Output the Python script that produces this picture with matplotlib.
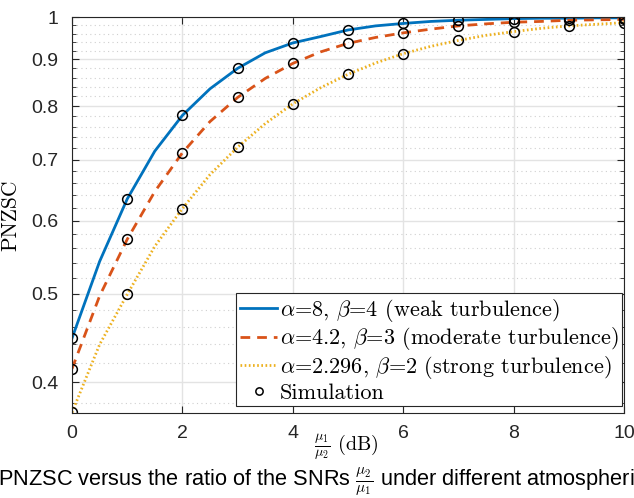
import numpy as np
import matplotlib
matplotlib.use("Agg")
import matplotlib.pyplot as plt
from matplotlib.ticker import FixedLocator, NullFormatter

plt.rcParams['mathtext.fontset'] = 'cm'
plt.rcParams['font.family'] = ['Liberation Sans', 'DejaVu Sans']

# analytical curves (0.5 dB step)
x_line = [0, 0.5, 1, 1.5, 2, 2.5, 3, 3.5, 4, 4.5, 5, 5.5, 6, 6.5, 7, 7.5, 8, 8.5, 9, 9.5, 10]
weak = [0.447, 0.542, 0.634, 0.715, 0.782, 0.836, 0.880, 0.915, 0.938, 0.953, 0.969,
        0.979, 0.985, 0.990, 0.993, 0.995, 0.997, 0.998, 0.998, 0.999, 0.999]
moderate = [0.414, 0.497, 0.573, 0.646, 0.712, 0.770, 0.818, 0.858, 0.891, 0.917, 0.937,
            0.951, 0.962, 0.971, 0.979, 0.984, 0.988, 0.990, 0.993, 0.994, 0.995]
strong = [0.371, 0.440, 0.499, 0.563, 0.619, 0.674, 0.722, 0.766, 0.805, 0.838, 0.867,
          0.892, 0.913, 0.930, 0.944, 0.956, 0.965, 0.973, 0.979, 0.983, 0.987]

# simulation points
x_sim = [0, 1, 2, 3, 4, 5, 6, 7, 8, 9, 10]
sim_weak = [0.447, 0.634, 0.782, 0.880, 0.938, 0.969, 0.985, 0.993, 0.997, 0.998, 0.999]
sim_moderate = [0.414, 0.573, 0.712, 0.818, 0.891, 0.937, 0.962, 0.979, 0.988, 0.993, 0.995]
sim_strong = [0.371, 0.499, 0.619, 0.722, 0.805, 0.867, 0.913, 0.944, 0.965, 0.979, 0.987]

labels = [r'$\alpha$=8, $\beta$=4 (weak turbulence)',
          r'$\alpha$=4.2, $\beta$=3 (moderate turbulence)',
          r'$\alpha$=2.296, $\beta$=2 (strong turbulence)',
          'Simulation']
yticks = [0.4, 0.5, 0.6, 0.7, 0.8, 0.9, 1.0]
yticklabels = ['0.4', '0.5', '0.6', '0.7', '0.8', '0.9', '1']
xticks = [0, 2, 4, 6, 8, 10]

fig = plt.figure(figsize=(6.34, 4.98), dpi=100)
ax = fig.add_axes([0.1136, 0.1707, 0.8706, 0.7943])

c_blue, c_red, c_yel = '#0072BD', '#D95319', '#EDB120'
h1, = ax.plot(x_line, weak, '-', color=c_blue, lw=2)
h2, = ax.plot(x_line, moderate, '--', color=c_red, lw=2, dashes=(3.5, 2.5))
h3, = ax.plot(x_line, strong, ':', color=c_yel, lw=2, dashes=(0.6, 0.9))
hs = None
for sv in (sim_weak, sim_moderate, sim_strong):
    hs, = ax.plot(x_sim, sv, 'o', mfc='none', mec='black', ms=7, mew=1.1, linestyle='none')

ax.set_yscale('log')
ax.set_xlim(0, 10)
ax.set_ylim(0.3705, 1.0)
ax.yaxis.set_major_locator(FixedLocator(yticks))
ax.set_yticklabels(yticklabels)
minors = [round(v, 2) for v in np.arange(0.38, 1.0, 0.02) if round(v, 2) not in [0.4, 0.5, 0.6, 0.7, 0.8, 0.9]]
ax.yaxis.set_minor_locator(FixedLocator(minors))
ax.yaxis.set_minor_formatter(NullFormatter())
ax.set_xticks(xticks)
ax.set_xticklabels([str(v) for v in xticks])

ax.grid(True, which='major', color='#e3e3e3', lw=1, ls='-')
ax.grid(True, which='minor', axis='y', color='#cfcfcf', lw=0.8, ls=(0, (1, 3)))
ax.set_axisbelow(True)
ax.tick_params(which='both', direction='in', top=True, right=True, labelsize=14,
               colors='#262626', length=5)
ax.tick_params(which='minor', length=3)
ax.tick_params(axis='x', pad=9)
ax.tick_params(axis='y', pad=10)
for s in ax.spines.values():
    s.set_color('#262626')
    s.set_linewidth(0.8)

ax.set_ylabel('PNZSC', fontsize=15.5, family='cmr10')
ax.yaxis.set_label_coords(-0.093, 0.5)
ax.text(0.497, -0.085, r'$\frac{\mu_1}{\mu_2}$ (dB)', transform=ax.transAxes,
        fontsize=14.5, family='cmr10', ha='center', va='center')

leg = ax.legend([h1, h2, h3, hs], labels, loc='lower right',
                prop={'family': 'cmr10', 'size': 16},
                bbox_to_anchor=(0.996, 0.018), fancybox=False, framealpha=1,
                edgecolor='#262626', borderpad=0.15, handlelength=1.7,
                handletextpad=0.1, labelspacing=0.08, borderaxespad=0,
                markerscale=0.75)
leg.get_frame().set_linewidth(0.8)

fig.text(-0.003, 0.032, r'PNZSC versus the ratio of the SNRs $\frac{\mu_2}{\mu_1}$ under different atmospheric',
         fontsize=15.7, ha='left', va='center')

fig.savefig('out.png', dpi=100)
